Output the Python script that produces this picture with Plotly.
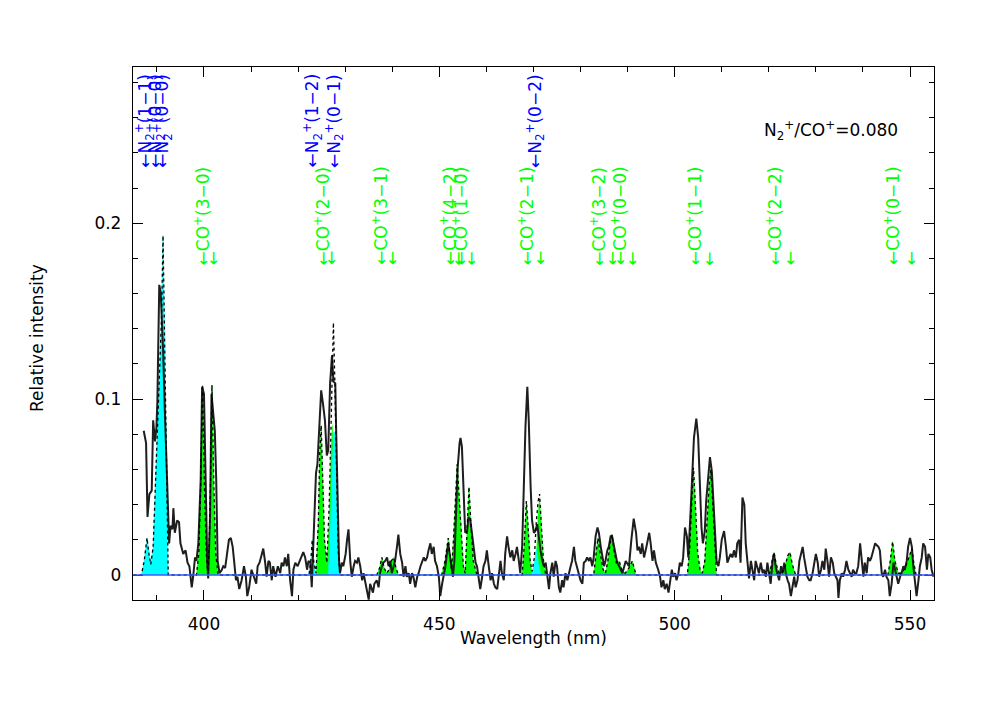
import plotly.graph_objects as go

# ---------------- observed spectrum ----------------
obs_wl = [387.2, 387.7, 388.0, 388.4, 388.9, 389.2, 389.6, 389.9, 390.1, 390.5, 390.8, 391.0, 391.3, 391.7,
          392.2, 392.6, 392.9, 393.3, 393.5, 393.8, 394.3, 394.7, 395.0, 395.6, 396.1, 396.5, 396.9, 397.4,
          397.7, 398.1, 398.4, 398.8, 399.3, 399.6, 400.0, 400.3, 400.7, 400.9, 401.3, 401.6, 402.0, 402.3,
          402.6, 402.9, 403.3, 403.8, 404.1, 404.5, 404.8, 405.3, 405.7, 406.1, 406.4, 406.8, 407.1, 407.5,
          408.0, 408.5, 408.9, 409.2, 409.6, 410.1, 410.6, 411.1, 411.4, 411.8, 412.3, 412.6, 413.0, 413.3,
          413.7, 414.0, 414.4, 414.7, 415.2, 415.7, 416.2, 416.5, 416.9, 417.2, 417.6, 417.9, 418.3, 418.7,
          419.0, 419.4, 419.9, 420.3, 420.8, 421.1, 421.5, 421.9, 422.2, 422.6, 422.9, 423.1, 423.4, 423.8,
          424.1, 424.5, 424.9, 425.3, 425.7, 426.1, 426.4, 426.8, 427.2, 427.5, 427.9, 428.1, 428.4, 428.7,
          428.9, 429.3, 429.6, 430.1, 430.4, 430.7, 431.1, 431.4, 431.8, 432.1, 432.5, 432.8, 433.2, 433.6,
          433.9, 434.3, 434.6, 435.0, 435.3, 435.9, 436.2, 436.7, 437.1, 437.4, 437.8, 438.1, 438.5, 438.9,
          439.2, 439.6, 439.9, 440.3, 440.6, 441.0, 441.3, 441.7, 442.1, 442.4, 442.8, 443.1, 443.5, 443.8,
          444.2, 444.5, 444.9, 445.3, 445.6, 446.0, 446.3, 446.7, 447.0, 447.4, 447.7, 448.1, 448.4, 448.8,
          449.1, 449.5, 449.9, 450.2, 450.6, 450.9, 451.3, 451.6, 451.9, 452.2, 452.5, 452.9, 453.2, 453.6,
          453.9, 454.3, 454.5, 454.8, 455.2, 455.5, 455.9, 456.2, 456.6, 456.9, 457.3, 457.7, 458.0, 458.4,
          458.7, 459.1, 459.4, 459.8, 460.1, 460.5, 460.9, 461.2, 461.6, 461.9, 462.3, 462.6, 463.0, 463.3,
          463.7, 464.0, 464.4, 464.7, 465.1, 465.5, 465.8, 466.2, 466.5, 466.9, 467.2, 467.6, 467.9, 468.3,
          468.7, 469.0, 469.4, 469.7, 470.1, 470.4, 470.8, 471.1, 471.5, 471.9, 472.2, 472.6, 472.9, 473.3,
          473.6, 474.0, 474.3, 474.7, 475.0, 475.4, 475.7, 476.1, 476.4, 476.8, 477.2, 477.5, 477.9, 478.2,
          478.6, 478.9, 479.3, 479.6, 480.0, 480.4, 480.7, 481.1, 481.4, 481.8, 482.1, 482.5, 482.8, 483.2,
          483.6, 483.9, 484.3, 484.6, 485.0, 485.3, 485.7, 486.0, 486.4, 486.7, 487.1, 487.4, 487.8, 488.2,
          488.9, 489.6, 490.3, 490.8, 491.3, 491.8, 492.1, 492.4, 492.8, 493.1, 493.5, 494.0, 494.6, 494.9,
          495.3, 495.6, 496.0, 496.5, 496.9, 497.2, 497.6, 497.9, 498.3, 498.7, 499.0, 499.4, 499.7, 500.1,
          500.4, 500.8, 501.1, 501.5, 501.8, 502.2, 502.6, 502.9, 503.4, 503.8, 504.1, 504.6, 505.0, 505.3,
          505.7, 506.0, 506.4, 506.7, 507.2, 507.5, 507.9, 508.2, 508.6, 508.9, 509.3, 509.6, 510.0, 510.5,
          510.9, 511.2, 511.6, 511.9, 512.3, 512.6, 513.0, 513.3, 513.7, 514.0, 514.4, 514.8, 515.1, 515.5,
          515.8, 516.2, 516.5, 516.9, 517.2, 517.6, 517.9, 518.3, 518.7, 519.0, 519.4, 519.7, 520.1, 520.4,
          520.8, 521.1, 521.5, 521.8, 522.2, 522.6, 522.9, 523.3, 523.6, 524.0, 524.3, 524.7, 525.0, 525.4,
          525.7, 526.1, 526.5, 526.8, 527.2, 527.5, 527.9, 528.2, 528.6, 528.9, 529.3, 529.6, 530.0, 530.4,
          530.7, 531.1, 531.4, 531.8, 532.1, 532.5, 532.8, 533.2, 533.6, 533.9, 534.3, 534.6, 534.8, 535.1,
          535.5, 535.8, 536.2, 536.5, 536.9, 537.2, 537.6, 537.9, 538.3, 538.6, 539.0, 539.4, 539.7, 540.1,
          540.4, 540.8, 541.1, 541.5, 541.8, 542.2, 542.6, 542.9, 543.3, 543.6, 544.0, 544.3, 544.7, 545.0,
          545.4, 545.7, 546.1, 546.5, 546.8, 547.2, 547.5, 547.9, 548.2, 548.6, 548.9, 549.3, 549.6, 550.0,
          550.4, 550.7, 551.1, 551.4, 551.8, 552.1, 552.5, 552.8, 553.2, 553.6, 553.9, 554.3, 554.6, 555.0]
obs_int = [0.082, 0.075, 0.033, 0.046, 0.048, 0.088, 0.076, 0.084, 0.099, 0.165, 0.161, 0.150, 0.129, 0.092,
           0.054, 0.018, 0.028, 0.026, 0.038, 0.024, 0.031, 0.030, 0.018, 0.012, 0.014, 0.007, 0.005, -0.007,
           -0.001, 0.010, 0.008, 0.018, 0.054, 0.107, 0.103, 0.054, 0.007, -0.002, 0.035, 0.103, 0.093, 0.082,
           0.054, 0.008, 0.001, 0.003, 0.005, 0.004, 0.010, 0.020, 0.021, 0.016, 0.008, -0.003, -0.001, -0.008,
           -0.003, 0.005, -0.001, -0.012, -0.007, 0.003, -0.001, -0.005, 0.005, 0.007, 0.012, 0.015, 0.007, -0.001,
           0.008, 0.007, -0.003, 0.005, -0.001, 0.005, 0.001, 0.007, 0.005, 0.010, 0.005, 0.012, -0.003, -0.012,
           0.003, 0.007, 0.005, 0.008, 0.012, 0.013, 0.010, 0.003, 0.008, 0.007, -0.007, 0.010, 0.035, 0.058,
           0.063, 0.084, 0.105, 0.097, 0.088, 0.068, 0.071, 0.109, 0.125, 0.110, 0.109, 0.080, 0.042, 0.008,
           0.001, 0.007, 0.005, 0.012, 0.020, 0.026, 0.007, -0.001, 0.005, 0.008, 0.007, 0.010, 0.005, -0.003,
           0.001, -0.005, -0.008, -0.014, -0.005, -0.010, -0.005, -0.003, -0.007, 0.001, 0.005, 0.007, 0.008, 0.010,
           0.005, 0.008, 0.001, 0.005, 0.008, 0.016, 0.023, 0.012, 0.007, -0.001, 0.005, -0.001, 0.001, -0.005,
           0.001, -0.001, -0.007, -0.001, 0.001, 0.005, 0.007, 0.010, 0.008, 0.010, 0.014, 0.018, 0.012, 0.016,
           0.008, 0.005, -0.001, -0.012, -0.005, -0.001, 0.005, 0.012, 0.018, 0.012, 0.005, -0.001, 0.008, 0.039,
           0.061, 0.075, 0.078, 0.073, 0.050, 0.024, 0.025, 0.033, 0.031, 0.025, 0.016, 0.007, 0.005, -0.003,
           -0.008, -0.001, 0.005, 0.008, 0.014, 0.005, -0.003, 0.001, -0.005, -0.007, -0.008, -0.001, 0.008, 0.001,
           -0.003, 0.012, 0.022, 0.016, 0.010, 0.014, 0.008, 0.012, 0.016, 0.008, 0.001, 0.016, 0.046, 0.084,
           0.107, 0.088, 0.050, 0.031, 0.024, 0.025, 0.029, 0.022, 0.014, 0.008, 0.005, 0.007, -0.001, -0.008,
           0.001, 0.007, -0.001, 0.008, 0.005, -0.007, -0.010, -0.003, -0.007, 0.001, -0.003, 0.001, 0.005, 0.008,
           0.016, 0.008, 0.003, 0.001, -0.003, -0.005, 0.007, 0.008, 0.010, 0.008, 0.010, 0.005, 0.010, 0.022,
           0.027, 0.024, 0.016, 0.010, 0.005, 0.008, 0.014, 0.016, 0.022, 0.022, 0.016, 0.012, 0.007, 0.005,
           0.001, 0.008, 0.005, 0.020, 0.032, 0.024, 0.014, 0.016, 0.012, 0.018, 0.010, 0.016, 0.024, 0.018,
           0.008, 0.014, 0.007, 0.003, -0.001, -0.007, -0.003, -0.008, -0.005, -0.010, -0.003, 0.003, -0.001, 0.001,
           -0.003, 0.001, 0.007, 0.005, 0.010, 0.027, 0.022, 0.010, 0.037, 0.061, 0.078, 0.089, 0.078, 0.056,
           0.027, 0.018, 0.025, 0.042, 0.061, 0.067, 0.059, 0.042, 0.018, 0.008, 0.005, 0.010, 0.020, 0.025,
           0.016, 0.007, 0.010, 0.012, 0.010, 0.014, 0.010, 0.018, 0.020, 0.007, 0.044, 0.040, 0.018, 0.008,
           -0.002, 0.008, 0.004, -0.003, 0.008, 0.004, 0.001, 0.007, 0.001, 0.003, -0.001, 0.007, -0.001, -0.005,
           0.008, 0.012, 0.004, 0.001, -0.003, 0.005, 0.001, 0.007, 0.001, -0.003, -0.005, -0.012, -0.007, -0.001,
           -0.007, -0.003, 0.008, 0.012, 0.016, 0.010, 0.003, -0.001, -0.003, -0.003, 0.001, 0.005, 0.012, 0.007,
           -0.001, 0.003, 0.008, 0.003, 0.015, 0.007, -0.001, 0.010, 0.007, 0.001, -0.001, -0.003, -0.013, -0.003,
           0.001, -0.001, 0.003, 0.008, 0.003, 0.001, -0.001, 0.003, 0.001, 0.001, 0.005, 0.018, 0.008, -0.001,
           0.007, 0.001, 0.010, 0.008, 0.010, 0.015, 0.018, 0.017, 0.016, 0.014, 0.001, -0.001, 0.003, -0.001,
           -0.003, -0.012, -0.005, 0.007, 0.003, -0.003, -0.005, -0.001, 0.001, 0.005, 0.003, 0.008, 0.016, 0.021,
           0.016, 0.005, -0.005, -0.012, -0.003, 0.005, 0.010, 0.018, 0.016, 0.003, 0.012, 0.010, 0.003, -0.001]

# ---------------- model components ----------------
n2_wl = [386.7, 387.3, 387.9, 388.3, 388.7, 389.2, 389.6, 389.9, 390.3, 390.6, 391.0, 391.3, 391.7, 392.1, 392.4,
         422.3, 422.7, 423.0, 423.3, 423.7,
         426.4, 426.9, 427.3, 427.5, 427.9, 428.2, 428.7, 429.0,
         469.6, 470.1, 470.6, 471.1, 471.6]
n2_int = [0.0, 0.008, 0.021, 0.012, 0.006, 0.016, 0.044, 0.076, 0.101, 0.118, 0.148, 0.193, 0.129, 0.054, 0.0,
          0.0, 0.008, 0.020, 0.008, 0.0,
          0.0, 0.030, 0.070, 0.081, 0.081, 0.040, 0.005, 0.0,
          0.0, 0.006, 0.015, 0.006, 0.0]

co_wl = [398.4, 398.9, 399.3, 399.7, 400.1, 400.5, 400.8, 401.1, 401.4, 401.7, 402.1, 402.5, 403.0,
         423.8, 424.3, 424.6, 424.9, 425.2, 425.6, 426.1, 426.6, 427.0, 427.3, 427.6, 428.0, 428.6,
         436.7, 437.3, 437.8, 438.3, 438.8, 439.3, 439.8, 440.3, 440.8, 441.3,
         450.5, 451.2, 451.9, 452.3, 452.6, 453.0, 453.4, 453.8, 454.2, 454.7, 455.1, 455.5, 455.8, 456.1,
         456.3, 456.7, 457.2, 458.0,
         467.6, 468.0, 468.3, 468.5, 468.8, 469.3, 469.7, 470.3, 470.7, 471.0, 471.3, 471.7, 472.1, 472.6,
         482.8, 483.3, 483.7, 484.2, 484.8, 485.3, 485.8, 486.3, 486.7, 487.1, 487.6, 488.2, 488.8, 489.5,
         490.3, 491.0, 491.4, 491.8,
         502.7, 503.2, 503.6, 504.0, 504.4, 504.9, 505.4, 505.9, 506.4, 506.9, 507.3, 507.7, 508.1, 508.5, 508.9,
         520.1, 520.6, 521.1, 521.6, 522.2, 522.8, 523.5, 524.0, 524.5, 525.0, 525.7,
         545.3, 545.8, 546.3, 546.8, 547.5, 548.2, 549.0, 549.7, 550.4, 550.8, 551.3]
co_int = [0.0, 0.012, 0.050, 0.108, 0.050, 0.012, 0.002, 0.015, 0.055, 0.108, 0.050, 0.012, 0.0,
          0.0, 0.030, 0.070, 0.085, 0.060, 0.020, 0.007, 0.030, 0.070, 0.085, 0.060, 0.020, 0.0,
          0.0, 0.004, 0.010, 0.004, 0.001, 0.003, 0.008, 0.010, 0.004, 0.0,
          0.0, 0.008, 0.021, 0.010, 0.003, 0.020, 0.045, 0.063, 0.045, 0.020, 0.005, 0.001, 0.020, 0.040,
          0.050, 0.030, 0.008, 0.0,
          0.0, 0.015, 0.035, 0.042, 0.030, 0.008, 0.001, 0.005, 0.015, 0.035, 0.044, 0.025, 0.008, 0.0,
          0.0, 0.012, 0.021, 0.012, 0.003, 0.001, 0.008, 0.018, 0.023, 0.014, 0.007, 0.008, 0.003, 0.001,
          0.004, 0.008, 0.004, 0.0,
          0.0, 0.015, 0.040, 0.061, 0.040, 0.012, 0.003, 0.001, 0.008, 0.030, 0.050, 0.060, 0.040, 0.015, 0.0,
          0.0, 0.006, 0.013, 0.006, 0.001, 0.001, 0.005, 0.011, 0.013, 0.006, 0.0,
          0.0, 0.008, 0.019, 0.008, 0.001, 0.001, 0.004, 0.010, 0.015, 0.007, 0.0]

# total model (dotted)
tot_wl = [385.0, 386.7, 387.3, 387.9, 388.3, 388.7, 389.2, 389.6, 389.9, 390.3, 390.6, 391.0, 391.3, 391.7,
          392.1, 392.4,
          398.4, 398.9, 399.3, 399.7, 400.1, 400.5, 400.8, 401.1, 401.4, 401.7, 402.1, 402.5, 403.0,
          422.3, 422.7, 423.0, 423.3, 423.8, 424.3, 424.6, 424.9, 425.2, 425.6, 426.1, 426.6, 427.0, 427.3,
          427.5, 427.8, 428.1, 428.5, 428.9,
          436.7, 437.3, 437.8, 438.3, 438.8, 439.3, 439.8, 440.3, 440.8, 441.3,
          450.5, 451.2, 451.9, 452.3, 452.6, 453.0, 453.4, 453.8, 454.2, 454.7, 455.1, 455.5, 455.8, 456.1,
          456.3, 456.7, 457.2, 458.0,
          467.6, 468.0, 468.3, 468.5, 468.8, 469.3, 469.7, 470.2, 470.6, 471.0, 471.3, 471.7, 472.1, 472.6,
          482.8, 483.3, 483.7, 484.2, 484.8, 485.3, 485.8, 486.3, 486.7, 487.1, 487.6, 488.2, 488.8, 489.5,
          490.3, 491.0, 491.4, 491.8,
          502.7, 503.2, 503.6, 504.0, 504.4, 504.9, 505.4, 505.9, 506.4, 506.9, 507.3, 507.7, 508.1, 508.5, 508.9,
          520.1, 520.6, 521.1, 521.6, 522.2, 522.8, 523.5, 524.0, 524.5, 525.0, 525.7,
          545.3, 545.8, 546.3, 546.8, 547.5, 548.2, 549.0, 549.7, 550.4, 550.8, 551.3, 555.0]
tot_int = [0.0, 0.0, 0.008, 0.021, 0.012, 0.006, 0.016, 0.044, 0.076, 0.101, 0.118, 0.148, 0.193, 0.129,
           0.054, 0.0,
           0.0, 0.012, 0.050, 0.108, 0.050, 0.012, 0.002, 0.015, 0.055, 0.108, 0.050, 0.012, 0.0,
           0.0, 0.008, 0.020, 0.008, 0.001, 0.030, 0.070, 0.085, 0.060, 0.020, 0.007, 0.040, 0.085, 0.125,
           0.1435, 0.110, 0.065, 0.015, 0.0,
           0.0, 0.004, 0.010, 0.004, 0.001, 0.003, 0.008, 0.010, 0.004, 0.0,
           0.0, 0.008, 0.021, 0.010, 0.003, 0.020, 0.045, 0.063, 0.045, 0.020, 0.005, 0.001, 0.020, 0.040,
           0.050, 0.030, 0.008, 0.0,
           0.0, 0.015, 0.035, 0.042, 0.030, 0.008, 0.002, 0.010, 0.030, 0.042, 0.046, 0.028, 0.009, 0.0,
           0.0, 0.012, 0.021, 0.012, 0.003, 0.001, 0.008, 0.018, 0.023, 0.014, 0.007, 0.008, 0.003, 0.001,
           0.004, 0.008, 0.004, 0.0,
           0.0, 0.015, 0.040, 0.061, 0.040, 0.012, 0.003, 0.001, 0.008, 0.030, 0.050, 0.060, 0.040, 0.015, 0.0,
           0.0, 0.006, 0.013, 0.006, 0.001, 0.001, 0.005, 0.011, 0.013, 0.006, 0.0,
           0.0, 0.008, 0.019, 0.008, 0.001, 0.001, 0.004, 0.010, 0.015, 0.007, 0.0, 0.0]

# ---------------- band labels ----------------
n2_labels = ["N<sub>2</sub><sup>+</sup>(1\u22121)", "N<sub>2</sub><sup>+</sup>(0\u22120)",
             "N<sub>2</sub><sup>+</sup>(0\u22120)", "N<sub>2</sub><sup>+</sup>(1\u22122)",
             "N<sub>2</sub><sup>+</sup>(0\u22121)", "N<sub>2</sub><sup>+</sup>(0\u22122)"]
n2_heads = [387.5, 389.8, 391.3, 423.1, 427.7, 470.4]

co_labels = ["CO<sup>+</sup>(3\u22120)", "CO<sup>+</sup>(2\u22120)", "CO<sup>+</sup>(3\u22121)",
             "CO<sup>+</sup>(4\u22122)", "CO<sup>+</sup>(1\u22120)", "CO<sup>+</sup>(2\u22121)",
             "CO<sup>+</sup>(3\u22122)", "CO<sup>+</sup>(0\u22120)", "CO<sup>+</sup>(1\u22121)",
             "CO<sup>+</sup>(2\u22122)", "CO<sup>+</sup>(0\u22121)"]
co_head1 = [399.5, 425.0, 437.4, 451.9, 454.3, 468.3, 483.7, 488.2, 504.0, 521.0, 546.2]
co_head2 = [401.9, 427.1, 440.1, 454.0, 456.8, 471.5, 486.7, 491.0, 507.4, 524.5, 550.2]

ratio_text = "N<sub>2</sub><sup>+</sup>/CO<sup>+</sup>=0.080"

X_RANGE = [384.92, 555.1]
Y_RANGE = [-0.01422, 0.2889]
FONT = "DejaVu Sans"
GREEN = "#00ff00"
CYAN = "#00ffff"
BLUE = "#0000ff"
LABEL_SIZE = 17

fig = go.Figure()
fig.add_trace(go.Scatter(x=co_wl, y=co_int, mode="lines", fill="tozeroy", fillcolor=GREEN,
                         line=dict(color=GREEN, width=0.5), hoverinfo="skip"))
fig.add_trace(go.Scatter(x=n2_wl, y=n2_int, mode="lines", fill="tozeroy", fillcolor=CYAN,
                         line=dict(color=CYAN, width=0.5), hoverinfo="skip"))
fig.add_trace(go.Scatter(x=obs_wl, y=obs_int, mode="lines", line=dict(color="#1e1e1e", width=2)))
fig.add_hline(y=0, line=dict(color="rgb(60,90,255)", width=1.5))
fig.add_trace(go.Scatter(x=tot_wl, y=tot_int, mode="lines", line=dict(color="black", width=1.3, dash="dot")))

ann = []
for lab, xh in zip(n2_labels, n2_heads):
    ann.append(dict(x=xh, y=0.2305, xref="x", yref="y", text="\u2190" + lab, textangle=-90,
                    showarrow=False, xanchor="center", yanchor="bottom",
                    font=dict(family=FONT, size=LABEL_SIZE, color=BLUE)))
for lab, x1, x2 in zip(co_labels, co_head1, co_head2):
    ann.append(dict(x=x1, y=0.1750, xref="x", yref="y", text="\u2190" + lab, textangle=-90,
                    showarrow=False, xanchor="center", yanchor="bottom",
                    font=dict(family=FONT, size=LABEL_SIZE, color=GREEN)))
    ann.append(dict(x=x2, y=0.1750, xref="x", yref="y", text="\u2190", textangle=-90,
                    showarrow=False, xanchor="center", yanchor="bottom",
                    font=dict(family=FONT, size=LABEL_SIZE, color=GREEN)))
ann.append(dict(x=533.3, y=0.2527, xref="x", yref="y", text=ratio_text, showarrow=False,
                xanchor="center", yanchor="middle", font=dict(family=FONT, size=17, color="black")))
ann.append(dict(x=-0.1199, y=0.4916, xref="paper", yref="paper", text="Relative intensity", textangle=-90,
                showarrow=False, xanchor="center", yanchor="middle",
                font=dict(family=FONT, size=17, color="black")))
ann.append(dict(x=0.4994, y=-0.0713, xref="paper", yref="paper", text="Wavelength (nm)",
                showarrow=False, xanchor="center", yanchor="middle",
                font=dict(family=FONT, size=17, color="black")))

axis_common = dict(showline=True, linecolor="black", linewidth=1.3, mirror="ticks", ticks="inside",
                   tickcolor="black", tickwidth=1.3, ticklen=10, showgrid=False, zeroline=False,
                   tickfont=dict(family=FONT, size=17, color="black"))
fig.update_layout(
    width=986, height=686,
    margin=dict(l=125, r=60, t=59, b=94),
    paper_bgcolor="white", plot_bgcolor="white",
    showlegend=False,
    annotations=ann,
    xaxis=dict(range=X_RANGE, tick0=400, dtick=50, ticklabelstandoff=8,
               minor=dict(ticks="inside", dtick=10, ticklen=5, tickcolor="black", tickwidth=1.3),
               **axis_common),
    yaxis=dict(range=Y_RANGE, tick0=0, dtick=0.1, ticklabelstandoff=7,
               minor=dict(ticks="inside", dtick=0.02, ticklen=5, tickcolor="black", tickwidth=1.3),
               **axis_common),
)
fig.write_html("out.html")
